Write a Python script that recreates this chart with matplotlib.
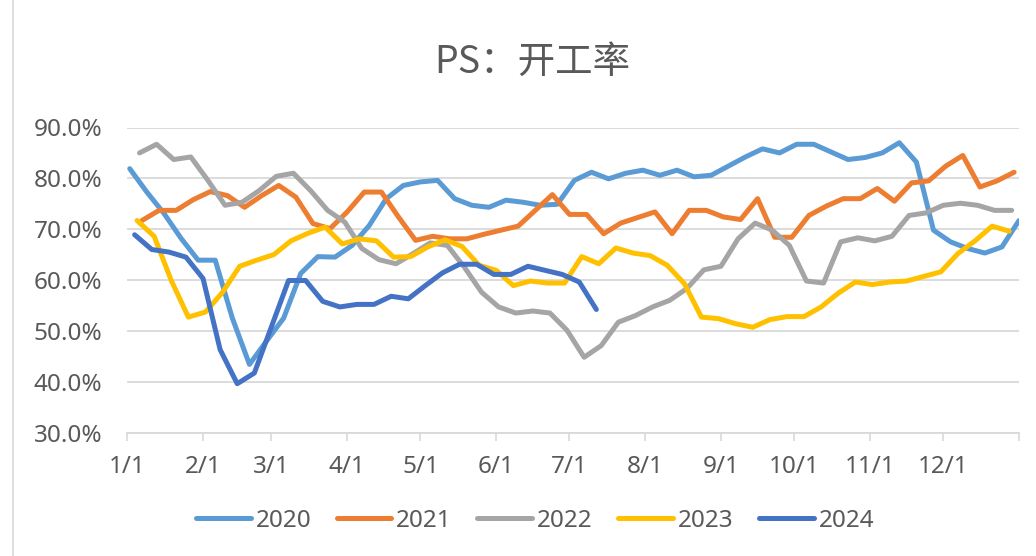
import numpy as np
import matplotlib
matplotlib.use("Agg")
import matplotlib.pyplot as plt
from matplotlib.lines import Line2D

# ---- data (weekly, Thursdays) ----
years = ["2020", "2021", "2022", "2023", "2024"]
start_dates = ["2020-01-02", "2021-01-07", "2022-01-06", "2023-01-05", "2024-01-04"]
colors = ["#5B9BD5", "#ED7D31", "#A5A5A5", "#FFC000", "#4472C4"]

v2020 = [81.9, 77.3, 73.1, 68.2, 63.9, 63.9, 52.5, 43.4, 48.0, 52.5, 61.3, 64.6, 64.5, 66.8,
         70.7, 76.0, 78.6, 79.3, 79.6, 76.0, 74.7, 74.3, 75.7, 75.3, 74.7, 74.9, 79.6, 81.2,
         79.9, 81.0, 81.6, 80.6, 81.6, 80.3, 80.6, 82.4, 84.2, 85.8, 85.0, 86.7, 86.7, 85.2,
         83.7, 84.1, 85.0, 87.0, 83.2, 69.8, 67.5, 66.2, 65.3, 66.5, 71.7]
v2021 = [71.7, 73.7, 73.7, 75.8, 77.4, 76.6, 74.3, 76.6, 78.6, 76.3, 71.1, 70.1, 73.4, 77.3,
         77.3, 72.4, 67.8, 68.6, 68.1, 68.1, 69.0, 69.8, 70.6, 73.7, 76.8, 72.9, 72.9, 69.1,
         71.2, 72.3, 73.4, 69.1, 73.7, 73.7, 72.4, 71.9, 76.0, 68.4, 68.4, 72.7, 74.5, 76.0,
         76.0, 78.0, 75.5, 79.1, 79.5, 82.4, 84.5, 78.3, 79.5, 81.2]
v2022 = [85.0, 86.7, 83.7, 84.2, 79.6, 74.7, 75.3, 77.6, 80.4, 81.0, 77.6, 73.7, 71.4, 66.2,
         64.0, 63.2, 65.2, 67.3, 66.8, 62.5, 57.6, 54.7, 53.5, 53.9, 53.5, 50.1, 44.8, 47.1,
         51.7, 53.0, 54.7, 56.0, 58.3, 62.0, 62.7, 68.1, 71.2, 69.8, 66.8, 59.8, 59.4, 67.5,
         68.3, 67.7, 68.6, 72.7, 73.2, 74.7, 75.1, 74.7, 73.7, 73.7]
v2023 = [71.7, 68.6, 59.9, 52.7, 53.7, 57.6, 62.7, 63.9, 65.0, 67.7, 69.2, 70.4, 67.1, 68.1,
         67.7, 64.5, 64.6, 66.5, 67.9, 66.6, 62.9, 61.9, 58.9, 59.8, 59.4, 59.4, 64.6, 63.2,
         66.3, 65.3, 64.8, 62.9, 59.3, 52.7, 52.4, 51.4, 50.7, 52.2, 52.8, 52.8, 54.7, 57.4,
         59.6, 59.1, 59.6, 59.8, 60.7, 61.6, 65.2, 67.7, 70.6, 69.6]
v2024 = [68.9, 66.0, 65.5, 64.5, 60.3, 46.3, 39.6, 41.7, 50.8, 59.9, 59.9, 55.8, 54.7, 55.2,
         55.2, 56.8, 56.3, 58.9, 61.4, 63.1, 63.1, 61.1, 61.1, 62.7, 61.9, 61.1, 59.6, 54.2]
values = [v2020, v2021, v2022, v2023, v2024]

month_labels = ["1/1", "2/1", "3/1", "4/1", "5/1", "6/1", "7/1", "8/1", "9/1", "10/1", "11/1", "12/1"]
yticks = [30, 40, 50, 60, 70, 80, 90]

# ---- figure ----
W, H = 1036, 556
fig = plt.figure(figsize=(W / 100, H / 100), dpi=100)
fig.patch.set_facecolor("white")
ax = fig.add_axes([127.3 / W, 1 - 432.5 / H, (1019 - 127.3) / W, (432.5 - 127.5) / H])

txt_color = "#595959"
grid_color = "#D9D9D9"
base_font = "Noto Sans"

for yr, sd, col, vals in zip(years, start_dates, colors, values):
    start = np.datetime64(sd)
    dates = start + np.arange(len(vals)) * np.timedelta64(7, "D")
    doy = (dates - np.datetime64(yr + "-01-01")).astype(float)
    ax.plot(doy, np.array(vals) / 100.0, color=col, lw=3.6, solid_capstyle="round",
            solid_joinstyle="round", label=yr, zorder=3)

ax.set_xlim(0, 365)
ax.set_ylim(0.30, 0.90)

# x ticks at month starts (non-leap reference year)
month_starts = (np.arange("2021-01", "2022-02", dtype="datetime64[M]").astype("datetime64[D]")
                - np.datetime64("2021-01-01")).astype(float)
ax.set_xticks(month_starts)
ax.set_xticklabels(month_labels + [""])
ax.set_yticks([t / 100 for t in yticks])
ax.set_yticklabels([f"{t:.1f}%" for t in yticks])

for lab in ax.get_xticklabels() + ax.get_yticklabels():
    lab.set_fontfamily(base_font)
    lab.set_fontsize(17.5)
    lab.set_color(txt_color)

ax.tick_params(axis="x", length=6, width=1.2, color=grid_color, pad=10, direction="out")
ax.tick_params(axis="y", length=0, pad=18)

ax.grid(axis="y", color=grid_color, lw=1.3, zorder=0)
ax.set_axisbelow(True)
for s in ["top", "right", "left"]:
    ax.spines[s].set_visible(False)
ax.spines["bottom"].set_color(grid_color)
ax.spines["bottom"].set_linewidth(1.3)
ax.spines["bottom"].set_zorder(1)

# title
fig.text(532 / W, 1 - 62 / H, "PS：开工率", ha="center", va="center",
         fontsize=27, color=txt_color, family=["Noto Sans CJK SC", "DejaVu Sans"])

# legend
handles = [Line2D([0], [0], color=c, lw=3.6, solid_capstyle="round") for c in colors]
leg = fig.legend(handles, years, loc="center", bbox_to_anchor=(535 / W, 1 - 521 / H),
                 ncol=5, frameon=False, handlelength=2.25, handletextpad=0.2,
                 columnspacing=1.05, prop={"family": base_font, "size": 17.5})
for t in leg.get_texts():
    t.set_color(txt_color)

# chart frame left border
fig.add_artist(Line2D([12.5 / W, 12.5 / W], [0, 1], color=grid_color, lw=1.2,
                      transform=fig.transFigure))

fig.savefig("out.png", dpi=100, facecolor="white")
